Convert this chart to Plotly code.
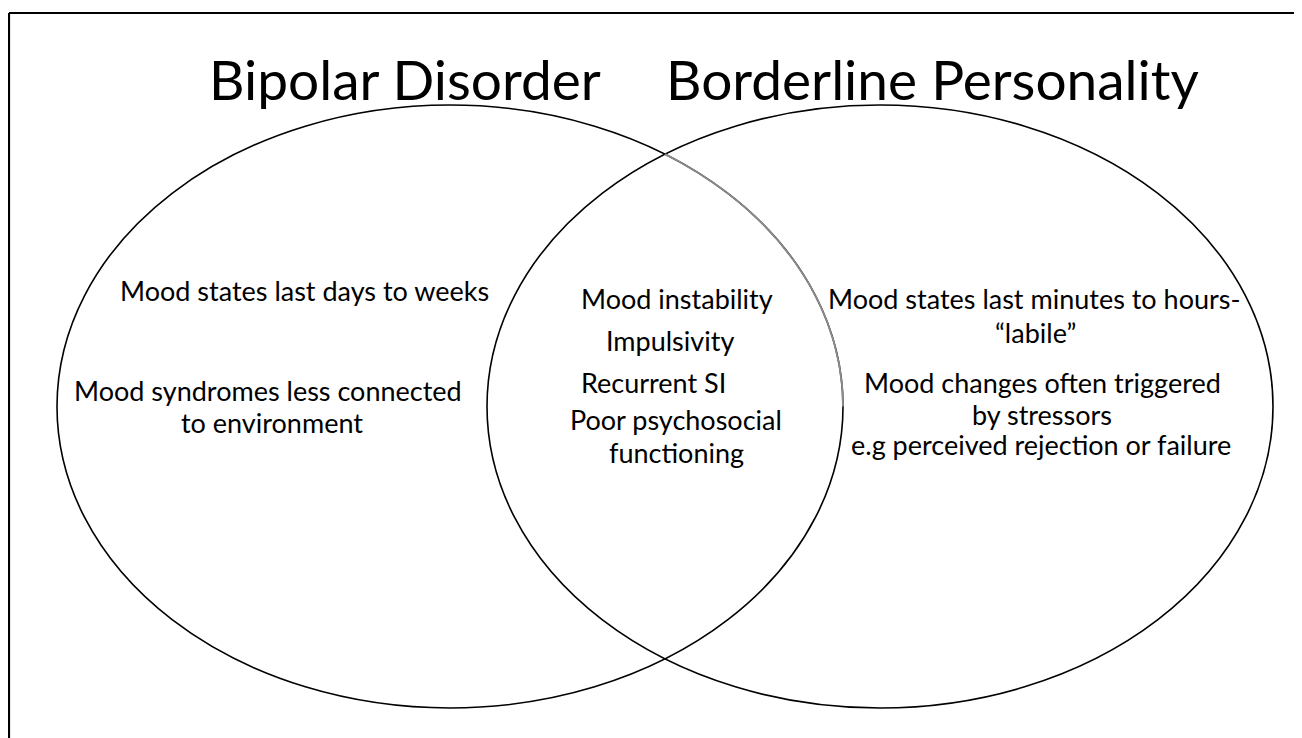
import numpy as np
import plotly.graph_objects as go

# ---- data ----
set_titles = ["Bipolar Disorder", "Borderline Personality"]
bipolar_only = ["Mood states last days to weeks", "Mood syndromes less connected", "to environment"]
shared = ["Mood instability", "Impulsivity", "Recurrent SI", "Poor psychosocial", "functioning"]
borderline_only = ["Mood states last minutes to hours-", "\u201clabile\u201d", "Mood changes often triggered",
                   "by stressors", "e.g perceived rejection or failure"]

# ---- layout helpers (positions in page-pixel space) ----
W, H = 1302, 738
OFF = 8  # default page body margin
FONT = "Lato, Calibri, Carlito, sans-serif"
left_ell = dict(cx=450, cy=406.5, a=393, b=301.5)
right_ell = dict(cx=880, cy=406.5, a=393, b=301.5)

fig = go.Figure()

for e in (left_ell, right_ell):
    fig.add_shape(type="circle", xref="x", yref="y", layer="below",
                  x0=e["cx"] - e["a"], x1=e["cx"] + e["a"],
                  y0=e["cy"] - e["b"], y1=e["cy"] + e["b"],
                  line=dict(color="black", width=1.6), fillcolor="rgba(0,0,0,0)")

# gray arc of left ellipse inside right ellipse (upper part)
dx = (left_ell["cx"] + right_ell["cx"]) / 2 - left_ell["cx"]
t0 = np.arccos(dx / left_ell["a"])
t = np.linspace(0, t0, 120)
fig.add_trace(go.Scatter(x=left_ell["cx"] + left_ell["a"] * np.cos(t),
                         y=left_ell["cy"] - left_ell["b"] * np.sin(t),
                         mode="lines", line=dict(color="#8c8c8c", width=1.8),
                         hoverinfo="skip", showlegend=False))

# frame (left and top edges)
fig.add_shape(type="line", xref="x", yref="y", x0=9, y0=13, x1=9, y1=H + 20,
              line=dict(color="black", width=2.2))
fig.add_shape(type="line", xref="x", yref="y", x0=9, y0=13, x1=W + 20, y1=13,
              line=dict(color="black", width=2.2))

def label(txt, x, y, size):
    fig.add_annotation(x=x, y=y, xref="x", yref="y", text=txt, showarrow=False,
                       xanchor="center", yanchor="middle",
                       font=dict(family=FONT, size=size, color="black"))

# titles
label(set_titles[0], 405, 79, 55)
label(set_titles[1], 932, 79, 55)

# bipolar only
for txt, x, y in zip(bipolar_only, [304, 268, 272], [290, 390, 422]):
    label(txt, x, y, 27)
# shared
for txt, x, y in zip(shared, [677, 670, 653, 676, 676], [298, 340, 382, 419, 452]):
    label(txt, x, y, 27)
# borderline only
for txt, x, y in zip(borderline_only, [1034, 1035, 1042, 1042, 1041], [298, 332, 382, 414, 444]):
    label(txt, x, y, 27)

fig.update_layout(width=W, height=H, margin=dict(l=0, r=0, t=0, b=0),
                  plot_bgcolor="white", paper_bgcolor="white",
                  xaxis=dict(range=[OFF, W + OFF], visible=False, fixedrange=True),
                  yaxis=dict(range=[H + OFF, OFF], visible=False, fixedrange=True),
                  showlegend=False)

fig.write_html("out.html")
